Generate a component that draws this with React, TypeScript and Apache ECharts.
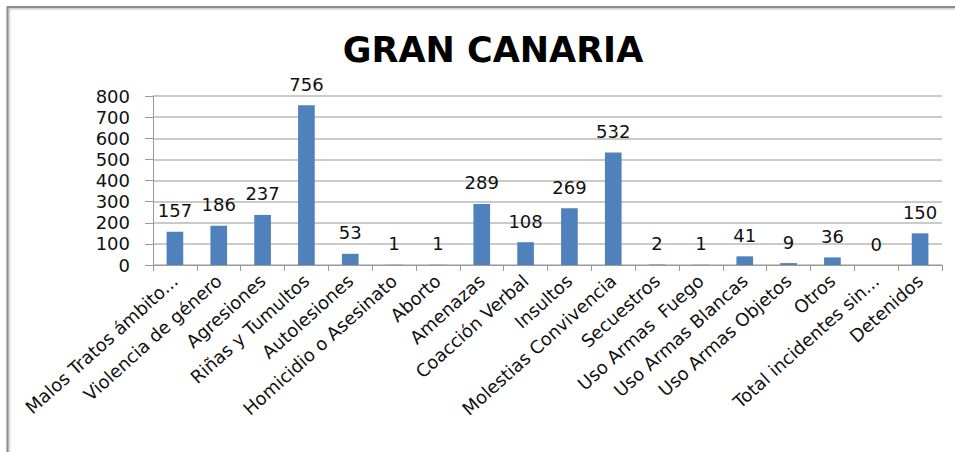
import React, { useEffect, useRef } from "react";
import * as echarts from "echarts";

const categories = [
  "Malos Tratos ámbito...",
  "Violencia de género",
  "Agresiones",
  "Riñas y Tumultos",
  "Autolesiones",
  "Homicidio o Asesinato",
  "Aborto",
  "Amenazas",
  "Coacción Verbal",
  "Insultos",
  "Molestias Convivencia",
  "Secuestros",
  "Uso Armas  Fuego",
  "Uso Armas Blancas",
  "Uso Armas Objetos",
  "Otros",
  "Total incidentes sin...",
  "Detenidos",
];
const values = [157, 186, 237, 756, 53, 1, 1, 289, 108, 269, 532, 2, 1, 41, 9, 36, 0, 150];
const yTicks = { min: 0, max: 800, interval: 100 };
const title = "GRAN CANARIA";

export default function App() {
  const ref = useRef<HTMLDivElement>(null);
  useEffect(() => {
    if (!ref.current) return;
    const chart = echarts.init(ref.current, null, { renderer: "svg" });
    const font = "DejaVu Sans";
    chart.setOption({
      animation: false,
      backgroundColor: "#ffffff",
      title: {
        text: title,
        left: 488,
        top: 27,
        textAlign: "center",
        textStyle: { fontFamily: font, fontWeight: "bold", fontSize: 35, color: "#000" },
      },
      graphic: [
        {
          type: "polyline",
          shape: { points: [[7.5, 452], [7.5, 7], [955, 7]] },
          style: {
            fill: "none",
            stroke: "#8c8c8c",
            lineWidth: 2,
            shadowColor: "rgba(0,0,0,0.3)",
            shadowBlur: 2,
            shadowOffsetX: 1,
            shadowOffsetY: 1,
          },
          z: -1,
          silent: true,
        },
      ],
      grid: { left: 153, right: 13, top: 96, bottom: 187, containLabel: false },
      xAxis: {
        type: "category",
        data: categories,
        boundaryGap: true,
        axisLine: { show: true, lineStyle: { color: "#9a9a9a", width: 1 } },
        axisTick: { show: true, alignWithLabel: false, length: 6, lineStyle: { color: "#9a9a9a" } },
        axisLabel: {
          interval: 0,
          rotate: 42,
          margin: 13,
          fontFamily: font,
          fontSize: 18,
          color: "#111",
        },
      },
      yAxis: {
        type: "value",
        min: yTicks.min,
        max: yTicks.max,
        interval: yTicks.interval,
        axisLine: { show: true, lineStyle: { color: "#9a9a9a", width: 1 } },
        axisTick: { show: true, length: 8, lineStyle: { color: "#9a9a9a" } },
        splitLine: { show: true, lineStyle: { color: "#b8b8b8", width: 1.5 } },
        axisLabel: { margin: 23, fontFamily: font, fontSize: 18, color: "#111" },
      },
      series: [
        {
          type: "bar",
          data: values,
          barWidth: "38%",
          itemStyle: { color: "#4f81bd" },
          label: {
            show: true,
            position: "top",
            distance: 12,
            fontFamily: font,
            fontSize: 18,
            color: "#111",
          },
        },
      ],
    });
    return () => chart.dispose();
  }, []);
  return (
    <div
      ref={ref}
      style={{ position: "absolute", left: 0, top: 0, width: 955, height: 452 }}
    />
  );
}
